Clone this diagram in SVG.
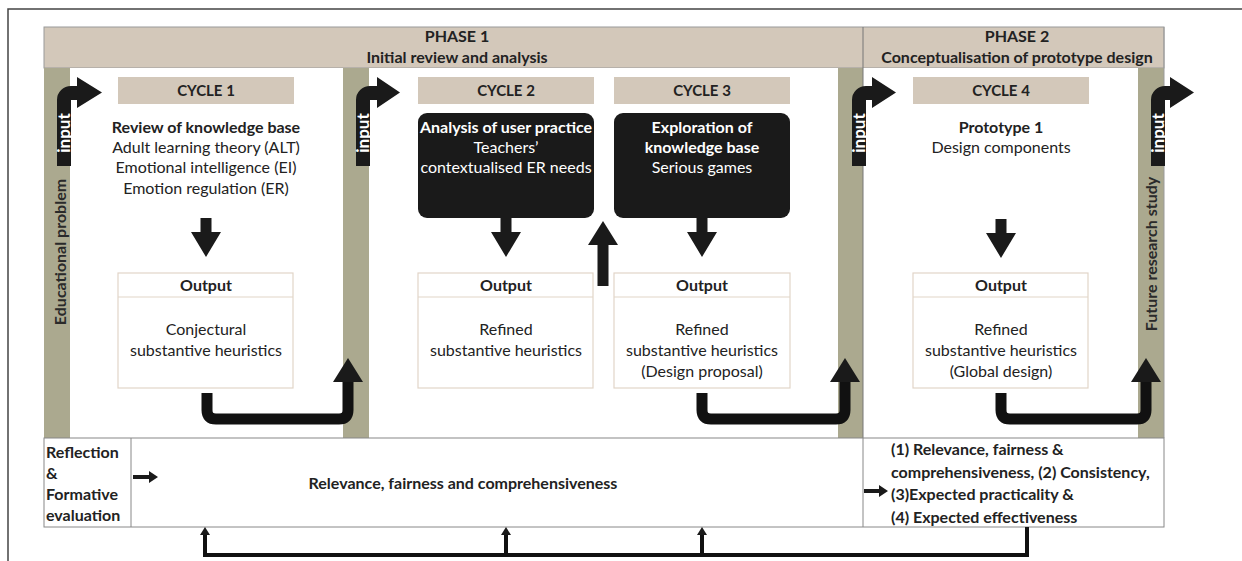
<svg xmlns="http://www.w3.org/2000/svg" width="1242" height="561" viewBox="0 0 1242 561">
<defs>
<style>
text{font-family:Lato,"Liberation Sans",sans-serif;fill:#222}
.b{font-weight:bold}
.c{text-anchor:middle}
.tan{fill:#d3c8ba}
.olive{fill:#aba98f}
.out{fill:#fff;stroke:#e2d5c8;stroke-width:1.2}
.blk{fill:#1a1a1a}
.h{font-size:15px;font-weight:bold}
.p{font-size:16px;font-weight:bold}
.t{font-size:16px}
.s{font-size:16px;font-weight:bold}
.in{font-size:17px;font-weight:bold;fill:#fff;text-anchor:middle}
.u{fill:none;stroke:#111;stroke-width:11;stroke-linejoin:round}
.fb{fill:none;stroke:#111;stroke-width:4}
</style>
</defs>
<rect width="1242" height="561" fill="#fff"/>
<path d="M8 561 V9 H1242" fill="none" stroke="#444" stroke-width="1.5"/>

<g id="frame">
<rect x="44" y="27" width="1120" height="41" class="tan" stroke="#9a9a9a" stroke-width="1"/>
<rect x="44" y="68" width="1120" height="370" fill="#fff"/>
<rect x="44" y="68" width="26" height="370" class="olive"/>
<rect x="343" y="68" width="26" height="370" class="olive"/>
<rect x="838" y="68" width="25" height="370" class="olive"/>
<rect x="1138" y="68" width="26" height="370" class="olive"/>
<line x1="863" y1="27" x2="863" y2="438" stroke="#777" stroke-width="1"/>
<line x1="1164" y1="27" x2="1164" y2="438" stroke="#9a9a9a" stroke-width="1"/>
</g>

<g id="phase1">
<text x="457" y="42" class="p c">PHASE 1</text>
<text x="457" y="63" class="p c">Initial review and analysis</text>
</g>
<g id="phase2">
<text x="1017" y="42" class="p c">PHASE 2</text>
<text x="1017" y="63" class="p c">Conceptualisation of prototype design</text>
</g>

<g id="educational-problem">
<text transform="translate(66,252) rotate(-90)" class="p c" style="fill:#2a2a2a">Educational problem</text>
</g>
<g id="future-research">
<text transform="translate(1157,254) rotate(-90)" class="p c" style="fill:#2a2a2a">Future research study</text>
</g>

<g id="input1">
<path class="blk" d="M57 166 V100 A14 14 0 0 1 71 86 H77 V77 L102 92.5 L77 108 V100 H71 V166 Z"/>
<text transform="translate(70,133) rotate(-90)" class="in">input</text>
</g>
<g id="input2">
<path class="blk" d="M356 166 V100 A14 14 0 0 1 370 86 H377 V77 L400 92.5 L377 108 V100 H370 V166 Z"/>
<text transform="translate(369,133) rotate(-90)" class="in">input</text>
</g>
<g id="input3">
<path class="blk" d="M852 166 V100 A14 14 0 0 1 866 86 H872 V77 L896 92.5 L872 108 V100 H866 V166 Z"/>
<text transform="translate(865,133) rotate(-90)" class="in">input</text>
</g>
<g id="input4">
<path class="blk" d="M1151 166 V100 A14 14 0 0 1 1165 86 H1170 V77 L1194 92.5 L1170 108 V100 H1165 V166 Z"/>
<text transform="translate(1164,133) rotate(-90)" class="in">input</text>
</g>

<g id="cycle1">
<rect x="118" y="77" width="176" height="27" class="tan"/>
<text x="206" y="96" class="h c">CYCLE 1</text>
<text x="206" y="133" class="t b c">Review of knowledge base</text>
<text x="206" y="153" class="t c">Adult learning theory (ALT)</text>
<text x="206" y="173" class="t c">Emotional intelligence (EI)</text>
<text x="206" y="194" class="t c">Emotion regulation (ER)</text>
</g>
<g id="cycle2">
<rect x="418" y="77" width="176" height="27" class="tan"/>
<text x="506" y="96" class="h c">CYCLE 2</text>
<rect x="418" y="113" width="176" height="105" rx="9" class="blk"/>
<text x="506" y="133" class="t b c" style="fill:#fff">Analysis of user practice</text>
<text x="506" y="153" class="t c" style="fill:#fff">Teachers’</text>
<text x="506" y="173" class="t c" style="fill:#fff">contextualised ER needs</text>
</g>
<g id="cycle3">
<rect x="614" y="77" width="176" height="27" class="tan"/>
<text x="702" y="96" class="h c">CYCLE 3</text>
<rect x="614" y="113" width="176" height="105" rx="9" class="blk"/>
<text x="702" y="133" class="t b c" style="fill:#fff">Exploration of</text>
<text x="702" y="153" class="t b c" style="fill:#fff">knowledge base</text>
<text x="702" y="173" class="t c" style="fill:#fff">Serious games</text>
</g>
<g id="cycle4">
<rect x="913" y="77" width="176" height="27" class="tan"/>
<text x="1001" y="96" class="h c">CYCLE 4</text>
<text x="1001" y="133" class="t b c">Prototype 1</text>
<text x="1001" y="153" class="t c">Design components</text>
</g>

<g id="output1">
<rect x="118" y="273" width="175" height="115" class="out"/>
<line x1="118" y1="297" x2="293" y2="297" stroke="#e2d5c8" stroke-width="1.2"/>
<text x="206" y="291" class="p c">Output</text>
<text x="206" y="335" class="t c">Conjectural</text>
<text x="206" y="356" class="t c">substantive heuristics</text>
</g>
<g id="output2">
<rect x="418" y="273" width="175" height="115" class="out"/>
<line x1="418" y1="297" x2="593" y2="297" stroke="#e2d5c8" stroke-width="1.2"/>
<text x="506" y="291" class="p c">Output</text>
<text x="506" y="335" class="t c">Refined</text>
<text x="506" y="356" class="t c">substantive heuristics</text>
</g>
<g id="output3">
<rect x="614" y="273" width="176" height="115" class="out"/>
<line x1="614" y1="297" x2="790" y2="297" stroke="#e2d5c8" stroke-width="1.2"/>
<text x="702" y="291" class="p c">Output</text>
<text x="702" y="335" class="t c">Refined</text>
<text x="702" y="356" class="t c">substantive heuristics</text>
<text x="702" y="377" class="t c">(Design proposal)</text>
</g>
<g id="output4">
<rect x="913" y="273" width="175" height="115" class="out"/>
<line x1="913" y1="297" x2="1088" y2="297" stroke="#e2d5c8" stroke-width="1.2"/>
<text x="1001" y="291" class="p c">Output</text>
<text x="1001" y="335" class="t c">Refined</text>
<text x="1001" y="356" class="t c">substantive heuristics</text>
<text x="1001" y="377" class="t c">(Global design)</text>
</g>

<g id="evaluation">
<rect x="44" y="438" width="1120" height="89" fill="#fff" stroke="#888" stroke-width="1"/>
<line x1="131" y1="438" x2="131" y2="527" stroke="#888" stroke-width="1"/>
<line x1="863" y1="438" x2="863" y2="527" stroke="#888" stroke-width="1"/>
<text x="46" y="458" class="s">Reflection</text>
<text x="46" y="479" class="s">&amp;</text>
<text x="46" y="500" class="s">Formative</text>
<text x="46" y="521" class="s">evaluation</text>
<text x="463" y="489" class="s c">Relevance, fairness and comprehensiveness</text>
<text x="891" y="455" class="s">(1) Relevance, fairness &amp;</text>
<text x="891" y="478" class="s">comprehensiveness, (2) Consistency,</text>
<text x="891" y="500" class="s">(3)Expected practicality &amp;</text>
<text x="891" y="523" class="s">(4) Expected effectiveness</text>
</g>

<g id="connectors">
<path class="blk" d="M200.5 218 H211.5 V232 H221 L206 257 L191 232 H200.5 Z"/>
<path class="blk" d="M500.5 218 H511.5 V232 H521 L506 257 L491 232 H500.5 Z"/>
<path class="blk" d="M696.5 218 H707.5 V232 H717 L702 257 L687 232 H696.5 Z"/>
<path class="blk" d="M995.5 219 H1006.5 V233 H1016 L1001 258 L986 233 H995.5 Z"/>
<path class="blk" d="M597.5 286 V245 H588 L603 221 L618 245 H608.5 V286 Z"/>
<path class="u" d="M207 393 V410 Q207 419 216 419 H339 Q348 419 348 410 V380"/>
<path class="blk" d="M333 382 H363 L348 358 Z"/>
<path class="u" d="M702 393 V410 Q702 419 711 419 H836 Q845 419 845 410 V380"/>
<path class="blk" d="M830 382 H860 L845 358 Z"/>
<path class="u" d="M1001 393 V410 Q1001 419 1010 419 H1137 Q1146 419 1146 410 V380"/>
<path class="blk" d="M1131 382 H1161 L1146 358 Z"/>
<path class="blk" d="M133 475 H149 V471 L158 477 L149 483 V479 H133 Z"/>
<path class="blk" d="M864 489 H879 V485 L888 491 L879 497 V493 H864 Z"/>
<path class="fb" d="M1027 527 V555 H205 V532"/>
<line x1="506" y1="555" x2="506" y2="532" class="fb"/>
<line x1="702" y1="555" x2="702" y2="532" class="fb"/>
<path class="blk" d="M200 535 L205 527 L210 535 Z"/>
<path class="blk" d="M501 535 L506 527 L511 535 Z"/>
<path class="blk" d="M697 535 L702 527 L707 535 Z"/>
</g>
</svg>
